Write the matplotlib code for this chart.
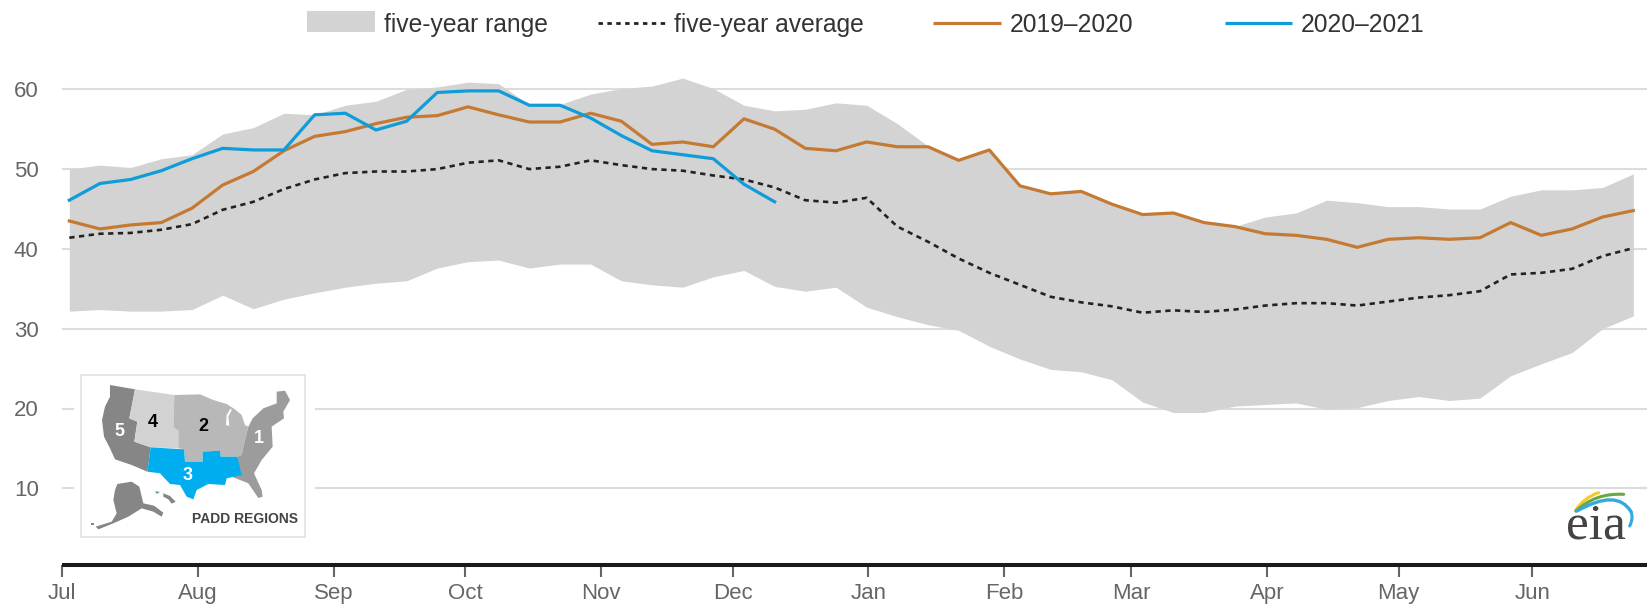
import numpy as np
import matplotlib
matplotlib.use("Agg")
import matplotlib.pyplot as plt
from matplotlib.patches import Polygon, Rectangle, PathPatch
from matplotlib.path import Path

plt.rcParams['font.family'] = ['Liberation Sans', 'DejaVu Sans']

month_labels = ['Jul', 'Aug', 'Sep', 'Oct', 'Nov', 'Dec', 'Jan', 'Feb', 'Mar', 'Apr', 'May', 'Jun']
month_days = [0, 31, 62, 92, 123, 153, 184, 215, 244, 275, 305, 335.5]
y_ticks = [10, 20, 30, 40, 50, 60]

range_high = [50.0, 50.5, 50.2, 51.3, 51.8, 54.4, 55.2, 57.0, 56.8, 58.0, 58.5, 60.0, 60.3,
              60.9, 60.7, 58.1, 58.1, 59.4, 60.1, 60.4, 61.4, 60.1, 58.0, 57.3, 57.5, 58.3,
              58.0, 55.7, 52.9, 51.1, 52.4, 47.9, 46.9, 47.2, 45.7, 44.4, 44.6, 43.3, 42.8,
              44.0, 44.5, 46.1, 45.8, 45.3, 45.3, 45.0, 45.0, 46.6, 47.4, 47.4, 47.7, 49.4]
range_low = [32.2, 32.4, 32.2, 32.2, 32.4, 34.2, 32.5, 33.7, 34.5, 35.2, 35.7, 36.0, 37.6,
             38.4, 38.6, 37.6, 38.1, 38.1, 36.0, 35.5, 35.2, 36.5, 37.3, 35.3, 34.7, 35.2,
             32.7, 31.5, 30.5, 29.8, 27.8, 26.2, 24.9, 24.6, 23.6, 20.8, 19.5, 19.5, 20.3,
             20.5, 20.7, 19.9, 20.1, 21.0, 21.5, 21.0, 21.3, 24.1, 25.6, 27.0, 30.0, 31.6]
five_year_avg = [41.4, 41.9, 42.0, 42.4, 43.1, 44.9, 45.9, 47.5, 48.7, 49.5, 49.7, 49.7, 50.0,
                 50.8, 51.1, 50.0, 50.3, 51.1, 50.5, 50.0, 49.8, 49.2, 48.7, 47.7, 46.1, 45.8,
                 46.4, 42.8, 40.9, 38.8, 37.0, 35.5, 34.0, 33.3, 32.8, 32.0, 32.3, 32.1, 32.4,
                 32.9, 33.2, 33.2, 32.9, 33.4, 33.9, 34.2, 34.7, 36.8, 37.0, 37.5, 39.1, 40.1]
season_2019 = [43.5, 42.5, 43.0, 43.3, 45.1, 48.0, 49.7, 52.3, 54.1, 54.7, 55.7, 56.5, 56.7,
               57.8, 56.8, 55.9, 55.9, 57.0, 56.0, 53.1, 53.4, 52.8, 56.3, 55.0, 52.6, 52.3,
               53.4, 52.8, 52.8, 51.1, 52.4, 47.9, 46.9, 47.2, 45.6, 44.3, 44.5, 43.3, 42.8,
               41.9, 41.7, 41.2, 40.2, 41.2, 41.4, 41.2, 41.4, 43.3, 41.7, 42.5, 44.0, 44.8]
season_2020 = [46.1, 48.2, 48.7, 49.8, 51.3, 52.6, 52.4, 52.4, 56.8, 57.0, 54.9, 56.0, 59.6,
               59.8, 59.8, 58.0, 58.0, 56.4, 54.2, 52.3, 51.8, 51.3, 48.1, 45.9]

week_days = 1.6 + 7 * np.arange(len(range_high))

W, H = 1647, 604
fig = plt.figure(figsize=(W / 100, H / 100), dpi=100, facecolor='white')

# main axes: pixel frame x 62..1647, y 40..565
ax = fig.add_axes([62.3 / W, 1 - 565 / H, (W - 62.3) / W, (565 - 40) / H])
ax.set_xlim(0, (W - 62.3) / 4.381)
ax.set_ylim(60 - (565 - 89.3) / 7.98, 60 + (89.3 - 40) / 7.98)
ax.patch.set_alpha(0)
for s in ['top', 'left', 'right']:
    ax.spines[s].set_visible(False)
ax.spines['bottom'].set_linewidth(2.9)
ax.spines['bottom'].set_color('#1a1a1a')
ax.spines['bottom'].set_capstyle('butt')

ax.set_yticks(y_ticks)
ax.set_yticklabels([str(v) for v in y_ticks], fontsize=16, color='#666666')
ax.tick_params(axis='y', length=0, pad=17)
ax.set_xticks(month_days)
ax.set_xticklabels(month_labels, fontsize=16, color='#666666')
ax.tick_params(axis='x', length=8.5, width=1.5, color='#666666', pad=4.5)
ax.grid(axis='y', color='#dcdcdc', linewidth=1.5, zorder=0)
ax.set_axisbelow(True)

GREY = '#d3d3d3'
ORANGE = '#c47a32'
BLUE = '#109cd8'
ax.fill_between(week_days, range_low, range_high, color=GREY, lw=0, zorder=2)
ax.plot(week_days, five_year_avg, color='#222222', lw=1.9, dashes=(2.0, 1.7),
        dash_capstyle='butt', zorder=3)
ax.plot(week_days, season_2019, color=ORANGE, lw=2.3, zorder=4, solid_joinstyle='round')
ax.plot(week_days[:len(season_2020)], season_2020, color=BLUE, lw=2.3, zorder=5,
        solid_joinstyle='round')

# overlay in pixel coordinates for legend, inset map and logo
ov = fig.add_axes([0, 0, 1, 1], zorder=10)
ov.set_xlim(0, W)
ov.set_ylim(H, 0)
ov.axis('off')
ov.patch.set_alpha(0)

# legend
LT = '#333333'
ov.add_patch(Rectangle((307, 10.5), 68, 21, fc=GREY, ec='none'))
ov.text(384, 25, 'five-year range', fontsize=17.7, color=LT, va='center', ha='left')
ov.plot([598, 665], [23, 23], color='#222222', lw=2.0, dashes=(1.6, 1.6), dash_capstyle='butt')
ov.text(674, 25, 'five-year average', fontsize=17.7, color=LT, va='center', ha='left')
ov.plot([933, 1001], [22.5, 22.5], color=ORANGE, lw=2.3, solid_capstyle='butt')
ov.text(1010, 25, '2019–2020', fontsize=17.7, color=LT, va='center', ha='left')
ov.plot([1225, 1292], [22.5, 22.5], color=BLUE, lw=2.3, solid_capstyle='butt')
ov.text(1301, 25, '2020–2021', fontsize=17.7, color=LT, va='center', ha='left')

# inset map
def zp(points):
    return [(x / 3, 340 + y / 3) for x, y in points]

ov.add_patch(Rectangle((74, 360), 241, 185, fc='white', ec='none'))
ov.add_patch(Rectangle((81.3, 374.5), 223.7, 162, fc='white', ec='#e2e2e2', lw=1.2))

padd5 = [(330, 135), (405, 148), (388, 235), (412, 245), (403, 305), (452, 322), (442, 395),
         (395, 375), (345, 358), (330, 325), (312, 290), (306, 240), (315, 200), (330, 170)]
padd4 = [(405, 148), (523, 165), (520, 262), (535, 272), (535, 325), (452, 322), (403, 305),
         (412, 245), (388, 235)]
padd2 = [(523, 165), (600, 163), (640, 180), (680, 192), (705, 208), (725, 225),
         (735, 255), (745, 260), (735, 300), (725, 345), (710, 350), (662, 350), (660, 332),
         (608, 335), (608, 365), (555, 365), (552, 328), (535, 325), (535, 272), (520, 262)]
padd1 = [(745, 260), (758, 235), (790, 205), (830, 190), (830, 155), (855, 152), (870, 180),
         (850, 215), (852, 235), (815, 260), (818, 320), (785, 360), (762, 400), (785, 450),
         (788, 470), (775, 474), (745, 430), (695, 410), (712, 350), (725, 345), (735, 300)]
padd3 = [(452, 322), (552, 328), (555, 365), (608, 365), (608, 335), (660, 332), (662, 350),
         (712, 350), (725, 405), (680, 415), (675, 435), (625, 432), (590, 450), (580, 478),
         (560, 470), (540, 435), (510, 432), (480, 400), (442, 395)]
alaska = [(352, 432), (395, 425), (418, 440), (430, 490), (462, 497), (490, 518), (485, 530),
          (460, 515), (425, 505), (385, 530), (340, 550), (295, 568), (287, 560), (335, 545),
          (350, 520), (340, 480), (345, 450)]
aleutian = [(274, 548), (282, 548), (282, 554), (274, 554)]
hawaii1 = [(465, 453), (480, 456), (470, 462)]
hawaii2 = [(490, 460), (510, 468), (527, 485), (515, 491), (505, 478), (490, 470)]
lake = [(692, 205), (680, 225), (678, 255), (688, 258), (685, 230), (695, 210)]
for pts, col in [(padd5, '#868686'), (padd4, '#d2d2d2'), (padd2, '#b8b8b8'), (padd1, '#9c9c9c'),
                 (padd3, '#00aeef'), (alaska, '#868686'), (aleutian, '#868686'),
                 (hawaii1, '#6f9aa8'), (hawaii2, '#868686'), (lake, 'white')]:
    ov.add_patch(Polygon(zp(pts), closed=True, fc=col, ec='none'))
for label, x, y, col in [('5', 358, 275, 'white'), ('4', 457, 248, 'black'), ('2', 610, 260, 'black'),
                         ('1', 778, 295, 'white'), ('3', 563, 405, 'white')]:
    px, py = zp([(x, y)])[0]
    ov.text(px, py, label, fontsize=13, fontweight='bold', color=col, ha='center', va='center')
ov.text(192.5, 519, 'PADD REGIONS', fontsize=10, fontweight='bold', color='#444444',
        ha='left', va='center')

# logo
ov.text(1596, 526, 'eia', family='Liberation Serif', fontsize=37, color='#444444',
        ha='center', va='center')
def arc(p0, p1, p2, col, lw):
    verts = [(1447 + x / 3, 440 + y / 3) for x, y in (p0, p1, p2)]
    ov.add_patch(PathPatch(Path(verts, [Path.MOVETO, Path.CURVE3, Path.CURVE3]),
                           fc='none', ec=col, lw=lw, capstyle='round'))
arc((385, 213), (410, 172), (455, 158), '#f5c92e', 2.2)
arc((387, 213), (445, 158), (530, 163), '#6aa842', 2.2)
arc((390, 213), (510, 145), (552, 215), '#35a8e0', 2.4)
arc((552, 215), (560, 235), (548, 258), '#35a8e0', 2.2)

fig.savefig('out.png', dpi=100, facecolor='white')
